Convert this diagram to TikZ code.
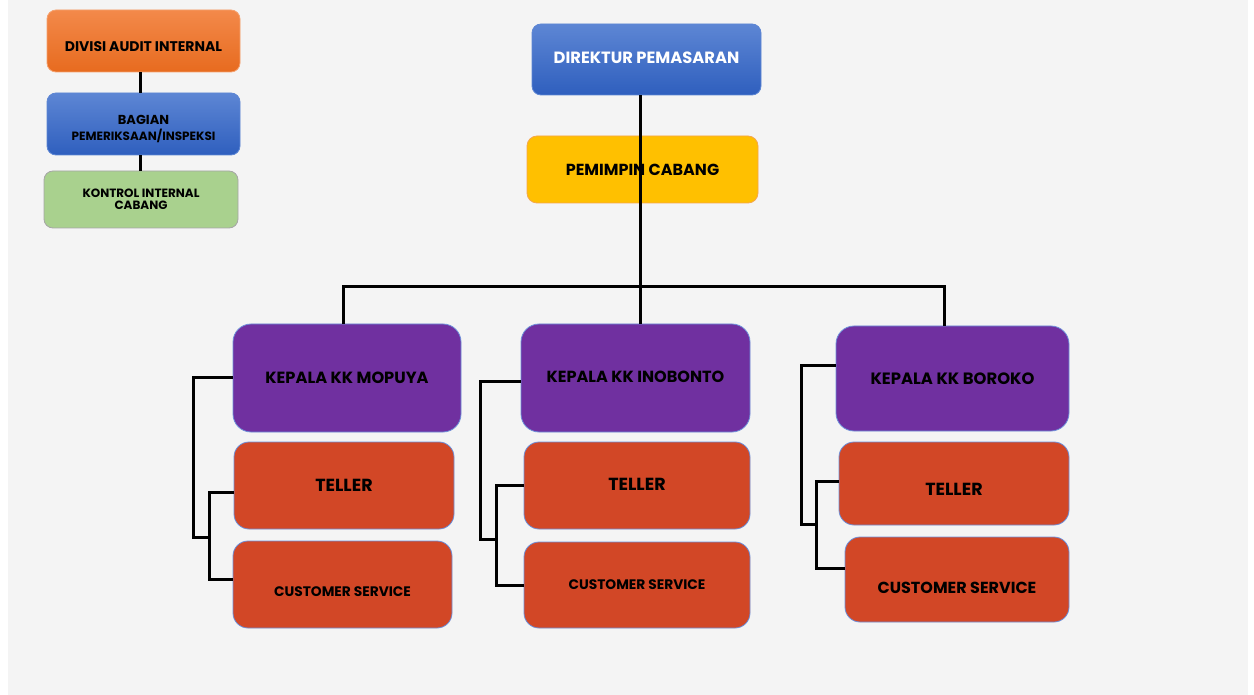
\documentclass[tikz,border=0pt]{standalone}
\usepackage{fontspec}
\setmainfont{Poppins}
\usetikzlibrary{calc}
\definecolor{pagebg}{HTML}{F4F4F4}
\definecolor{orgtop}{HTML}{F3894A}
\definecolor{orgbot}{HTML}{E76B1F}
\definecolor{bluetop}{HTML}{5D86D4}
\definecolor{bluebot}{HTML}{2F5FBE}
\definecolor{greenfill}{HTML}{A9D18E}
\definecolor{yellowfill}{HTML}{FFC000}
\definecolor{yellowline}{HTML}{F4A64C}
\definecolor{purplefill}{HTML}{7030A0}
\definecolor{redfill}{HTML}{D24726}
\definecolor{edgeblue}{HTML}{6D8FD9}
% shift a label vertically without changing its box
\newcommand{\shiftlabel}[2]{\raisebox{#1}[\height][\depth]{#2}}
\newcommand{\fsz}[1]{\fontsize{#1}{1.2\dimexpr#1pt\relax}\selectfont}
\tikzset{
  unit/.style={draw, inner sep=0pt, align=center, font=\bfseries, line width=0.8pt},
  orangebox/.style={unit, rounded corners=9pt, top color=orgtop, bottom color=orgbot, draw=orgtop!80!white},
  bluebox/.style={unit, rounded corners=9pt, top color=bluetop, bottom color=bluebot, draw=bluetop},
  greenbox/.style={unit, rounded corners=9pt, fill=greenfill, draw=black!35},
  yellowbox/.style={unit, rounded corners=10pt, fill=yellowfill, draw=yellowline},
  headbox/.style={unit, rounded corners=18pt, fill=purplefill, draw=edgeblue},
  staffbox/.style={unit, rounded corners=15pt, fill=redfill, draw=edgeblue},
  link/.style={draw=black, line width=3pt}
}
\begin{document}
\begin{tikzpicture}[x=1pt, y=-1pt]
  \useasboundingbox (0,0) rectangle (1254,695);
  \fill[pagebg] (8,0) rectangle (1248,695);

  % audit column
  \node[orangebox, minimum width=193pt, minimum height=62pt, font=\bfseries\fsz{14}] (aud) at (143.5,41)
    {\shiftlabel{-6pt}{DIVISI AUDIT INTERNAL}};
  \node[bluebox, minimum width=193pt, minimum height=62pt] (bag) at (143.5,124)
    {\shiftlabel{-6pt}{\begin{tabular}{@{}c@{}}\fsz{13}BAGIAN\\[1pt]\fsz{12}PEMERIKSAAN/INSPEKSI\end{tabular}}};
  \node[greenbox, minimum width=194pt, minimum height=57pt, font=\bfseries\fontsize{12}{12}\selectfont] (kon) at (141,199.5)
    {KONTROL INTERNAL\\CABANG};

  % management
  \node[bluebox, minimum width=229pt, minimum height=71pt, text=white, font=\bfseries\fsz{16.3}] (dir) at (646.5,59.5)
    {\shiftlabel{1.5pt}{DIREKTUR PEMASARAN}};
  \node[yellowbox, minimum width=231pt, minimum height=67pt, font=\bfseries\fsz{16}] (pem) at (642.5,169.5) {PEMIMPIN CABANG};

  % branch offices
  \node[headbox, minimum width=228pt, minimum height=108pt, font=\bfseries\fsz{16.2}] (k1) at (347,378) {KEPALA KK MOPUYA};
  \node[staffbox, minimum width=220pt, minimum height=87pt, font=\bfseries\fsz{17.5}] (t1) at (344,485.5) {TELLER};
  \node[staffbox, minimum width=219pt, minimum height=87pt, font=\bfseries\fsz{13.8}] (c1) at (342.5,584.5)
    {\shiftlabel{-7.5pt}{CUSTOMER SERVICE}};

  \node[headbox, minimum width=229pt, minimum height=108pt, font=\bfseries\fsz{16.1}] (k2) at (635.5,378)
    {\shiftlabel{1pt}{KEPALA KK INOBONTO}};
  \node[staffbox, minimum width=226pt, minimum height=87pt, font=\bfseries\fsz{17.5}] (t2) at (637,485.5) {\shiftlabel{1.5pt}{TELLER}};
  \node[staffbox, minimum width=226pt, minimum height=86pt, font=\bfseries\fsz{13.8}] (c2) at (637,585) {CUSTOMER SERVICE};

  \node[headbox, minimum width=233pt, minimum height=105pt, font=\bfseries\fsz{16.4}] (k3) at (952.5,378.5) {KEPALA KK BOROKO};
  \node[staffbox, minimum width=230pt, minimum height=83pt, font=\bfseries\fsz{17.5}] (t3) at (954,483.5)
    {\shiftlabel{-5.5pt}{TELLER}};
  \node[staffbox, minimum width=224pt, minimum height=85pt, font=\bfseries\fsz{16}] (c3) at (957,579.5)
    {\shiftlabel{-8.5pt}{CUSTOMER SERVICE}};

  % junction points
  \coordinate (spine) at (640,287);
  \coordinate (busL) at (343,287);
  \coordinate (busR) at (944,287);
  \coordinate (e1) at (193,537); \coordinate (j1) at (209,537);
  \coordinate (e2) at (480,539); \coordinate (j2) at (496,539);
  \coordinate (e3) at (801,524); \coordinate (j3) at (816,524);

  % audit chain
  \draw[link] ([xshift=-3.5pt]aud.south) -- ([xshift=-3.5pt]bag.north);
  \draw[link] ([xshift=-3.5pt]bag.south) -- ([xshift=-1pt]kon.north);

  % main hierarchy
  \draw[link] (dir.south -| spine) -- (pem.south -| spine);
  \draw[link] (pem.south -| spine) -- (k2.north -| spine);
  \draw[link] (k1.north -| busL) -- (busL) -- (busR) -- (k3.north -| busR);

  % office brackets
  \draw[link] ([yshift=1pt]k1.west) -| (e1) -- (j1);
  \draw[link] ([yshift=-6.5pt]t1.west) -| (j1) |- ([yshift=5.5pt]c1.west);
  \draw[link] ([yshift=-3pt]k2.west) -| (e2) -- (j2);
  \draw[link] (t2.west) -| (j2) |- (c2.west);
  \draw[link] ([yshift=13.5pt]k3.west) -| (e3) -- (j3);
  \draw[link] ([yshift=2.5pt]t3.west) -| (j3) |- ([yshift=11.5pt]c3.west);
\end{tikzpicture}
\end{document}
